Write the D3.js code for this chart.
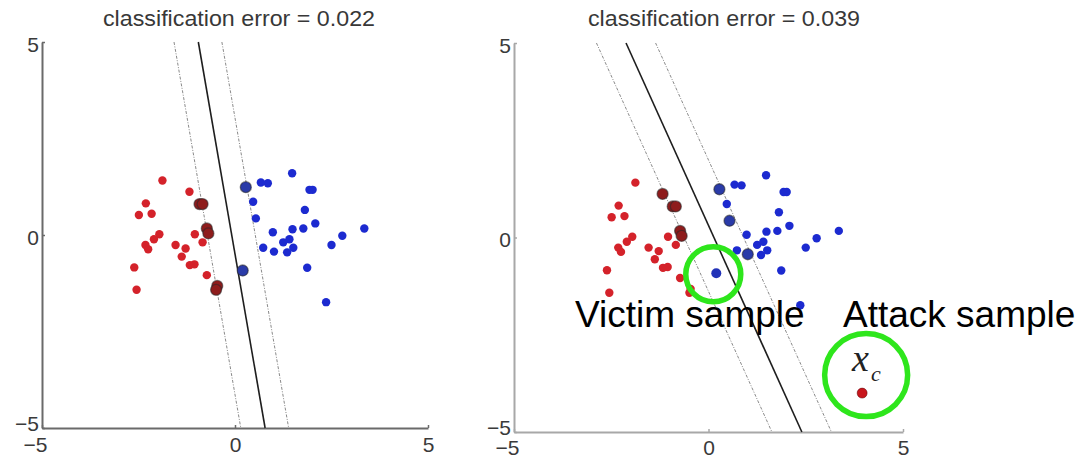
<!DOCTYPE html>
<html>
<head>
<meta charset="utf-8">
<script src="https://cdn.jsdelivr.net/npm/d3@7"></script>
<style>
  body { margin: 0; background: #fff; }
  svg { display: block; font-family: "Liberation Sans", Arial, sans-serif; }
</style>
</head>
<body>
<div id="chart"></div>
<script>
// sample data (same training set in both panels)
var redPoints = [
  [-1.88, 1.41], [-1.18, 1.12], [-2.31, 0.82], [-2.49, 0.52], [-2.16, 0.55],
  [-0.92, 0.80], [-0.84, 0.80], [-0.73, 0.17], [-0.69, 0.04], [-1.04, 0.02],
  [-1.96, 0.02], [-2.10, -0.11], [-2.32, -0.26], [-2.25, -0.37], [-1.54, -0.26],
  [-1.28, -0.35], [-0.84, -0.19], [-1.38, -0.56], [-1.17, -0.78], [-1.05, -0.76],
  [-2.61, -0.84], [-0.73, -1.04], [-0.46, -1.32], [-0.49, -1.42], [-2.55, -1.42]
];
var bluePoints = [
  [0.28, 1.24], [0.67, 1.36], [0.85, 1.34], [1.48, 1.60], [1.93, 1.17],
  [2.01, 1.17], [0.47, 0.86], [1.81, 0.65], [0.54, 0.43], [2.08, 0.30],
  [0.98, 0.07], [1.49, 0.15], [1.77, 0.17], [3.35, 0.17], [2.78, -0.02],
  [2.50, -0.26], [0.73, -0.33], [1.01, -0.43], [1.25, -0.19], [1.41, -0.11],
  [1.35, -0.45], [1.51, -0.33], [1.87, -0.85], [0.20, -0.92], [2.36, -1.74]
];

// support vectors (indices) per panel
var leftRedSV = [5, 6, 7, 8, 22, 23];
var leftBlueSV = [0, 23];
var rightRedSV = [1, 5, 6, 7, 8];
var rightBlueSV = [0, 8, 17];

// decision boundary and margins, given as [x, y] end points
var leftBoundary = [[-0.95, 5], [0.78, -5]];
var leftMargins = [[[-1.58, 5], [0.15, -5]], [[-0.34, 5], [1.39, -5]]];
var rightBoundary = [[-2.12, 5], [2.40, -5]];
var rightMargins = [[[-2.88, 5], [1.63, -5]], [[-1.36, 5], [3.16, -5]]];

var victimIndex = 23;
var attackPoint = [3.95, -4.0];

var titles = ["classification error = 0.022", "classification error = 0.039"];
var tickValues = [-5, 0, 5];

var width = 1083, height = 461;

var svg = d3.select("#chart").append("svg")
    .attr("width", width)
    .attr("height", height);

var defs = svg.append("defs");
defs.append("filter").attr("id", "soft")
    .append("feGaussianBlur").attr("stdDeviation", 0.5);

var panels = [
  { left: 42, right: 428, top: 42, bottom: 428, axisColor: "#6a6a6a", pad: 9,
    boundary: leftBoundary, margins: leftMargins, redSV: leftRedSV, blueSV: leftBlueSV, title: titles[0], titleX: 239 },
  { left: 514, right: 903, top: 43, bottom: 432, axisColor: "#a8a8a8", pad: 8,
    boundary: rightBoundary, margins: rightMargins, redSV: rightRedSV, blueSV: rightBlueSV, title: titles[1], titleX: 724 }
];

function fmt(d) { return d < 0 ? "\u2212" + Math.abs(d) : String(d); }

panels.forEach(function(p, pi) {
    var x = d3.scaleLinear().domain([-5, 5]).range([p.left, p.right]);
    var y = d3.scaleLinear().domain([-5, 5]).range([p.bottom, p.top]);
    p.x = x; p.y = y;

    var g = svg.append("g").attr("class", "panel");

    g.append("text")
        .attr("x", p.titleX)
        .attr("y", 26)
        .attr("text-anchor", "middle")
        .attr("font-size", 22)
        .attr("textLength", 272)
        .attr("lengthAdjust", "spacingAndGlyphs")
        .attr("fill", "#383838")
        .text(p.title);

    var xAxis = g.append("g")
        .attr("transform", "translate(0," + p.bottom + ")")
        .call(d3.axisBottom(x).tickValues(tickValues).tickFormat(fmt)
            .tickSizeInner(-3).tickSizeOuter(0).tickPadding(p.pad));
    var yAxis = g.append("g")
        .attr("transform", "translate(" + p.left + ",0)")
        .call(d3.axisLeft(y).tickValues(tickValues).tickFormat(fmt)
            .tickSizeInner(-3).tickSizeOuter(0).tickPadding(3));

    [xAxis, yAxis].forEach(function(a) {
        a.select(".domain").attr("stroke", p.axisColor).attr("stroke-width", 2);
        a.selectAll(".tick line").attr("stroke", p.axisColor).attr("stroke-width", 1.5);
        a.selectAll(".tick text")
            .attr("font-size", 21)
            .attr("font-family", "'Liberation Sans', Arial, sans-serif")
            .attr("fill", "#3a3a3a");
    });
    xAxis.selectAll(".tick text").attr("dx", function(d) { return d < 0 ? -7 : 0; });
    yAxis.selectAll(".tick text").attr("dy", function(d) { return d < 0 ? "0.1em" : "0.45em"; });

    var line = d3.line()
        .x(function(d) { return x(d[0]); })
        .y(function(d) { return y(d[1]); });

    p.margins.forEach(function(m) {
        g.append("path")
            .attr("d", line(m))
            .attr("fill", "none")
            .attr("stroke", "#8a8a8a")
            .attr("stroke-width", 1)
            .attr("stroke-dasharray", "3,1.5,1,1.5");
    });
    g.append("path")
        .attr("d", line(p.boundary))
        .attr("fill", "none")
        .attr("stroke", "#1e1e1e")
        .attr("stroke-width", 1.6);

    var pts = g.append("g").attr("filter", "url(#soft)");

    function drawSet(data, svIdx, col, svCol) {
        pts.selectAll(null)
            .data(data.filter(function(d, i) { return svIdx.indexOf(i) < 0; }))
            .enter().append("circle")
            .attr("cx", function(d) { return x(d[0]); })
            .attr("cy", function(d) { return y(d[1]); })
            .attr("r", function(d) { return pi === 1 && d === bluePoints[victimIndex] ? 5 : 4.2; })
            .attr("fill", function(d) { return pi === 1 && d === bluePoints[victimIndex] ? "#2433b8" : col; });
        pts.selectAll(null)
            .data(data.filter(function(d, i) { return svIdx.indexOf(i) >= 0; }))
            .enter().append("circle")
            .attr("cx", function(d) { return x(d[0]); })
            .attr("cy", function(d) { return y(d[1]); })
            .attr("r", 5.5)
            .attr("fill", svCol)
            .attr("stroke", "rgba(40,40,40,0.55)")
            .attr("stroke-width", 1.3);
    }
    drawSet(redPoints, p.redSV, "#d4222a", "#8e1c1e");
    drawSet(bluePoints, p.blueSV, "#1c2bd0", "#2a3aa8");
});

// annotations on the right panel
var rp = panels[1];
var ann = svg.append("g").attr("class", "annotations");

ann.append("g").attr("filter", "url(#soft)")
    .append("circle")
    .attr("cx", rp.x(attackPoint[0]))
    .attr("cy", rp.y(attackPoint[1]))
    .attr("r", 5)
    .attr("fill", "#c8161e")
    .attr("stroke", "rgba(90,0,0,0.5)")
    .attr("stroke-width", 1);

var victim = bluePoints[victimIndex];
ann.append("circle")
    .attr("cx", rp.x(victim[0]) - 3)
    .attr("cy", rp.y(victim[1]) + 1)
    .attr("r", 27.5)
    .attr("fill", "none")
    .attr("stroke", "#2ee61c")
    .attr("stroke-width", 5.5);

ann.append("circle")
    .attr("cx", rp.x(attackPoint[0]) + 4)
    .attr("cy", rp.y(attackPoint[1]) - 18)
    .attr("r", 41.5)
    .attr("fill", "none")
    .attr("stroke", "#2ee61c")
    .attr("stroke-width", 5.5);

ann.append("text")
    .attr("x", 575).attr("y", 327)
    .attr("font-size", 37)
    .attr("fill", "#000")
    .text("Victim sample");
ann.append("text")
    .attr("x", 843).attr("y", 327)
    .attr("font-size", 37)
    .attr("fill", "#000")
    .text("Attack sample");

var xc = ann.append("text")
    .attr("x", 852).attr("y", 371)
    .attr("font-family", "'Liberation Serif', 'Times New Roman', serif")
    .attr("font-style", "italic")
    .attr("fill", "#222");
xc.append("tspan").attr("font-size", 38).text("x");
xc.append("tspan").attr("font-size", 22).attr("dx", 2).attr("dy", 10).text("c");
</script>
</body>
</html>
